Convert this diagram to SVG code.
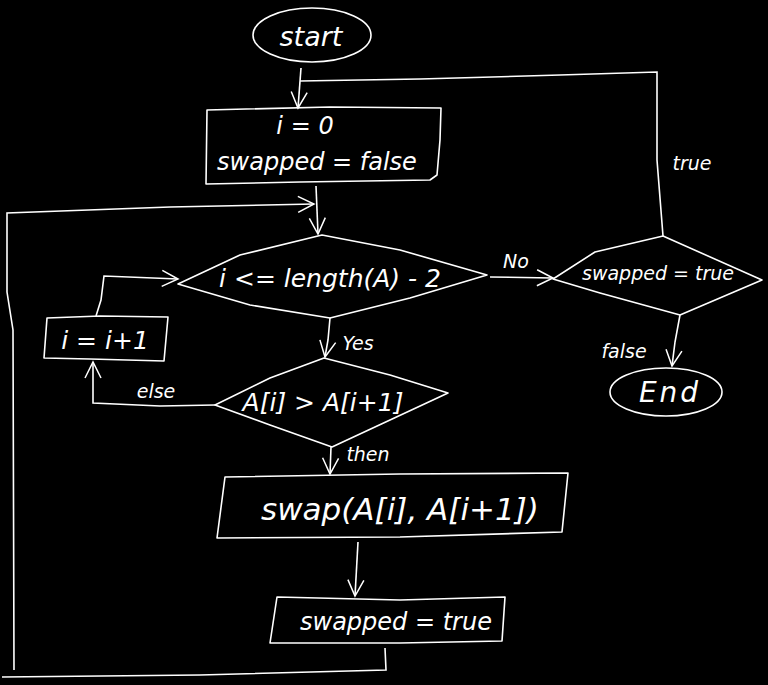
<svg xmlns="http://www.w3.org/2000/svg" width="768" height="685" viewBox="0 0 768 685">
<defs>
<marker id="ah" viewBox="0 0 20 20" refX="18" refY="10" markerWidth="20" markerHeight="20" markerUnits="userSpaceOnUse" orient="auto">
<polyline points="2,2 18,10 2,18" fill="none" stroke="#fff" stroke-width="1.5"/>
</marker>
</defs>
<style>
.s{fill:none;stroke:#fff;stroke-width:1.6;stroke-linejoin:round;stroke-linecap:round}
.c{fill:none;stroke:#fff;stroke-width:1.6;marker-end:url(#ah)}
.l{fill:none;stroke:#fff;stroke-width:1.6}
text{fill:#fff;font-family:"DejaVu Sans",sans-serif;font-style:italic;text-anchor:middle}
.t{font-size:24px}
.e{font-size:19px}
</style>
<rect width="768" height="685" fill="#000"/>
<g id="connectors">
<path class="c" d="M301,68 L298,108"/>
<path class="l" d="M300,81 L420,79 L560,75 L657,72 L657,160 L663,236"/>
<path class="c" d="M316,186 L318,234"/>
<path class="l" d="M385,648 L386,670 L200,675 L2,677"/>
<path class="c" d="M14,670 L13,330 L7,292 L7,213 L170,207 L314,204"/>
<path class="c" d="M490,277 L553,278"/>
<path class="c" d="M680,315 L675,342 L672,366"/>
<path class="c" d="M330,318 L328,340 L325,357"/>
<path class="c" d="M215,405 L160,406 L93,403 L93,362"/>
<path class="c" d="M96,316 L101,300 L104,276 L178,279"/>
<path class="c" d="M331,447 L330,474"/>
<path class="c" d="M358,542 L355,596"/>
</g>
<g id="start">
<ellipse class="s" cx="312" cy="35" rx="59" ry="27"/>
<text x="311" y="46" style="font-size:27px">start</text>
</g>
<g id="init">
<path class="s" d="M207,110 L330,107 L441,108 L440,140 L437,175 L430,180 L300,182 L206,184 Z"/>
<text class="t" x="305" y="134">i = 0</text>
<text class="t" x="317" y="170">swapped = false</text>
</g>
<g id="cond1">
<path class="s" d="M322,235 L400,250 L487,275 L410,298 L330,318 L250,305 L178,284 L240,255 Z"/>
<text x="330" y="287" style="font-size:25px">i &lt;= length(A) - 2</text>
</g>
<g id="cond2">
<path class="s" d="M553,279 L595,252 L663,236 L762,280 L680,315 L600,293 Z"/>
<text x="658" y="280" style="font-size:19px">swapped = true</text>
</g>
<g id="end">
<ellipse class="s" cx="666" cy="392" rx="56" ry="24"/>
<text x="670" y="402" style="font-size:28px;letter-spacing:3px">End</text>
</g>
<g id="cond3">
<path class="s" d="M324,358 L390,375 L448,393 L390,420 L332,447 L270,425 L215,405 L270,378 Z"/>
<text x="323" y="411" style="font-size:25px">A[i] &gt; A[i+1]</text>
</g>
<g id="inc">
<path class="s" d="M47,318 L100,316 L168,317 L164,361 L90,359 L44,358 Z"/>
<text x="105" y="349" style="font-size:25px">i = i+1</text>
</g>
<g id="swap">
<path class="s" d="M225,477 L400,474 L568,473 L562,532 L400,537 L217,538 Z"/>
<text x="400" y="520" style="font-size:31px">swap(A[i], A[i+1])</text>
</g>
<g id="settrue">
<path class="s" d="M277,597 L400,600 L505,597 L502,641 L400,643 L270,643 Z"/>
<text class="t" x="396" y="630">swapped = true</text>
</g>
<g id="labels">
<text class="e" x="516" y="268">No</text>
<text class="e" x="692" y="170">true</text>
<text class="e" x="624" y="358">false</text>
<text class="e" x="358" y="350">Yes</text>
<text class="e" x="156" y="398">else</text>
<text class="e" x="368" y="461">then</text>
</g>
</svg>
